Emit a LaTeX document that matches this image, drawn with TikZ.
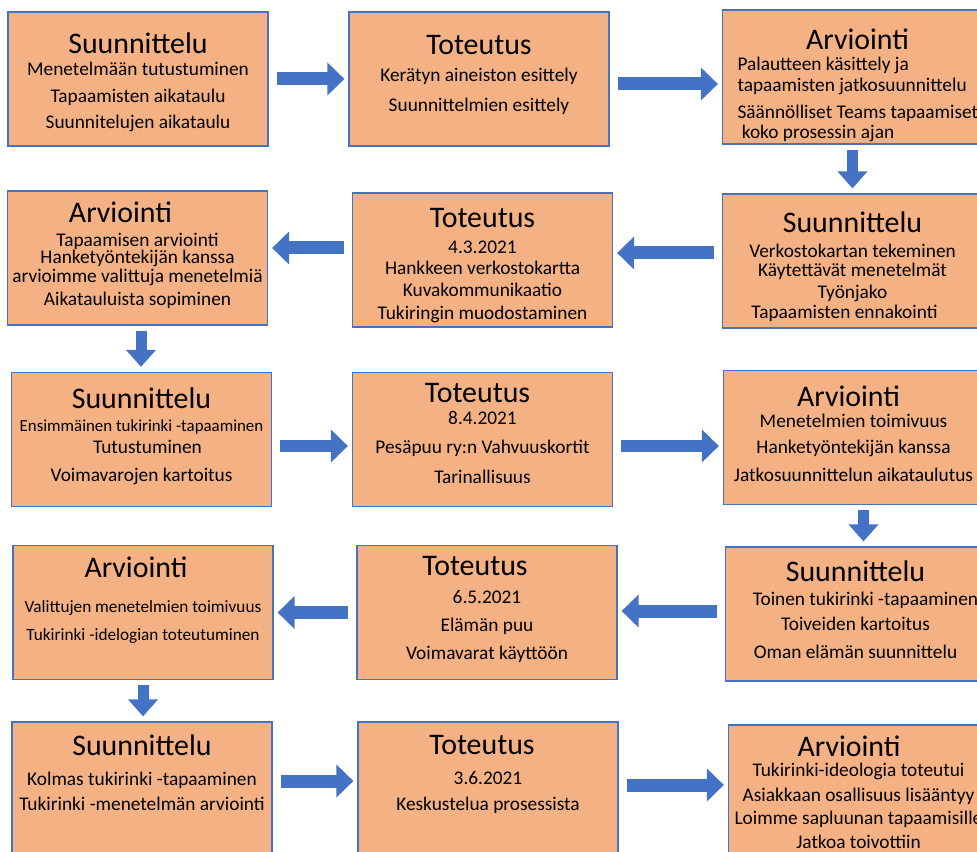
\documentclass[tikz,border=0pt]{standalone}
\usepackage{fontspec}
\setmainfont{Carlito}
\usepackage{xcolor}
\usepackage{tikz}
\usetikzlibrary{arrows.meta}
\definecolor{boxfill}{HTML}{F4B183}
\definecolor{boxline}{HTML}{4472C4}
\definecolor{flowblue}{HTML}{4472C4}
\newcommand\boxtitle[1]{{\fontsize{17}{11}\selectfont #1}}
\newcommand\smallline[1]{{\fontsize{9.6}{11}\selectfont #1}}
\newcommand\midline[1]{{\fontsize{9.8}{11}\selectfont #1}}
\newcommand\lft[1]{\makebox[4.6cm][l]{#1}}
\newcommand\pad[1]{\\[#1]\mbox{}}
\newcommand\tpad[1]{\mbox{}\\[#1]}

\begin{document}
\begin{tikzpicture}[
    box/.style={rectangle, draw=boxline, fill=boxfill, line width=0.7pt, minimum width=5.2cm, minimum height=2.68cm, inner sep=0pt, align=center, font={\fontsize{11}{11}\selectfont}},
    flowh/.style={draw=flowblue, line width=0.26cm, -{Triangle[length=0.34cm,width=0.64cm]}, shorten <=0.16cm, shorten >=0.08cm},
    flowv/.style={draw=flowblue, line width=0.22cm, -{Triangle[length=0.34cm,width=0.58cm]}, shorten <=0.1cm, shorten >=0.1cm}
  ]
    \useasboundingbox (0,0) rectangle (19.54,-17.04);
    \clip (0,0) rectangle (19.54,-17.04);
    \node[box] (plan1) at (2.76,-1.58) {\tpad{2.4pt}\boxtitle{Suunnittelu}\hspace*{0.4cm}\\[1.9pt] Menetelmään tutustuminen\\[4.3pt] Tapaamisten aikataulu\\[3.7pt] Suunnitelujen aikataulu};
    \node[box] (impl1) at (9.58,-1.58) {\boxtitle{Toteutus}\\[4.2pt] Kerätyn aineiston esittely\\[6pt] Suunnittelmien esittely\pad{-4.8pt}};
    \node[box] (eval1) at (17.05,-1.54) {\tpad{8.7pt}\hspace*{0.2cm}\boxtitle{Arviointi}\\[0.8pt] \lft{Palautteen käsittely ja}\\[0.9pt] \lft{tapaamisten jatkosuunnittelu}\\[4.3pt] \lft{Säännölliset Teams tapaamiset}\\[0.3pt] \lft{\ koko prosessin ajan}};
    \node[box] (eval2) at (2.75,-5.16) {\boxtitle{Arviointi}\hspace*{0.68cm}\\[2.4pt] Tapaamisen arviointi\hspace*{0.24cm}\\[-1.4pt] Hanketyöntekijän kanssa\hspace*{0.18cm}\\[0.3pt] arvioimme valittuja menetelmiä\\[2pt] Aikatauluista sopiminen\pad{-6.4pt}};
    \node[box] (impl2) at (9.65,-5.20) {\tpad{6.4pt}\boxtitle{Toteutus}\\[3.6pt] 4.3.2021\hspace*{0.28cm}\\[0.9pt] Hankkeen verkostokartta\\[1.5pt] Kuvakommunikaatio\hspace*{0.4cm}\\[2pt] Tukiringin muodostaminen};
    \node[box] (plan2) at (17.05,-5.22) {\tpad{5.2pt}\boxtitle{Suunnittelu}\\[3.6pt] Verkostokartan tekeminen\\[-0.2pt] Käytettävät menetelmät\\[1.5pt] Työnjako\hspace*{0.36cm}\\[0.3pt] Tapaamisten ennakointi\hspace*{0.32cm}};
    \node[box] (plan3) at (2.83,-8.79) {\boxtitle{Suunnittelu}\\[1.9pt] \smallline{Ensimmäinen tukirinki -tapaaminen}\\[1.5pt] \hspace*{0.24cm}Tutustuminen\\[4.9pt] Voimavarojen kartoitus\pad{-5.2pt}};
    \node[box] (impl3) at (9.65,-8.79) {\boxtitle{Toteutus}\hspace*{0.2cm}\\[1.3pt] 8.4.2021\hspace*{0.4cm}\\[6pt] Pesäpuu ry:n Vahvuuskortit\\[6pt] Tarinallisuus\hspace*{0.32cm}\pad{-4.2pt}};
    \node[box] (eval3) at (17.07,-8.75) {\boxtitle{Arviointi}\hspace*{0.2cm}\\[1.3pt] Menetelmien toimivuus\\[3.7pt] Hanketyöntekijän kanssa\\[4.9pt] Jatkosuunnittelun aikataulutus\pad{-6.5pt}};
    \node[box] (eval4) at (2.86,-12.25) {\boxtitle{Arviointi}\hspace*{0.28cm}\\[8.6pt] \midline{Valittujen menetelmien toimivuus}\\[4.9pt] \midline{Tukirinki -idelogian toteutuminen}\pad{4.7pt}};
    \node[box] (impl4) at (9.74,-12.25) {\boxtitle{Toteutus}\hspace*{0.48cm}\\[4.7pt] 6.5.2021\hspace*{0.2cm}\\[4.9pt] Elämän puu\hspace*{0.16cm}\\[4.9pt] Voimavarat käyttöön\pad{-5.8pt}};
    \node[box] (plan4) at (17.11,-12.28) {\boxtitle{Suunnittelu}\\[3pt] \hspace*{0.4cm}Toinen tukirinki -tapaaminen\\[3.2pt] Toiveiden kartoitus\\[4.9pt] Oman elämän suunnittelu\pad{-5.9pt}};
    \node[box] (plan5) at (2.84,-15.78) {\boxtitle{Suunnittelu}\\[5.8pt] Kolmas tukirinki -tapaaminen\\[3.2pt] Tukirinki -menetelmän arviointi\pad{7.9pt}};
    \node[box] (impl5) at (9.76,-15.78) {\boxtitle{Toteutus}\hspace*{0.24cm}\\[6.4pt] 3.6.2021\hspace*{0.52cm}\\[3.7pt] Keskustelua prosessista\hspace*{0.44cm}\pad{7.3pt}};
    \node[box] (eval5) at (17.17,-15.84) {\boxtitle{Arviointi}\hspace*{0.38cm}\\[0.7pt] Tukirinki-ideologia toteutui\\[3.2pt] Asiakkaan osallisuus lisääntyy\\[2pt] Loimme sapluunan tapaamisille\\[2.6pt] Jatkoa toivottiin};
    \draw[flowh] (plan1.east) -- (plan1.east -| impl1.west);
    \draw[flowh] ([yshift=-0.1cm]impl1.east) -- ([yshift=-0.1cm]impl1.east -| eval1.west);
    \draw[flowv] (eval1.south) -- (eval1.south |- plan2.north);
    \draw[flowh] ([yshift=0.16cm]plan2.west) -- ([yshift=0.16cm]plan2.west -| impl2.east);
    \draw[flowh] ([yshift=0.24cm]impl2.west) -- ([yshift=0.24cm]impl2.west -| eval2.east);
    \draw[flowv] ([xshift=0.07cm]eval2.south) -- ([xshift=0.07cm]eval2.south |- plan3.north);
    \draw[flowh] ([yshift=-0.13cm]plan3.east) -- ([yshift=-0.13cm]plan3.east -| impl3.west);
    \draw[flowh] ([yshift=-0.13cm]impl3.east) -- ([yshift=-0.13cm]impl3.east -| eval3.west);
    \draw[flowv] ([xshift=0.2cm]eval3.south) -- ([xshift=0.2cm]eval3.south |- plan4.north);
    \draw[flowh] ([yshift=0.06cm]plan4.west) -- ([yshift=0.06cm]plan4.west -| impl4.east);
    \draw[flowh] (impl4.west) -- (impl4.west -| eval4.east);
    \draw[flowv] (eval4.south) -- (eval4.south |- plan5.north);
    \draw[flowh] ([yshift=0.16cm]plan5.east) -- ([yshift=0.16cm]plan5.east -| impl5.west);
    \draw[flowh] ([yshift=0.08cm]impl5.east) -- ([yshift=0.08cm]impl5.east -| eval5.west);
  \end{tikzpicture}
\end{document}
